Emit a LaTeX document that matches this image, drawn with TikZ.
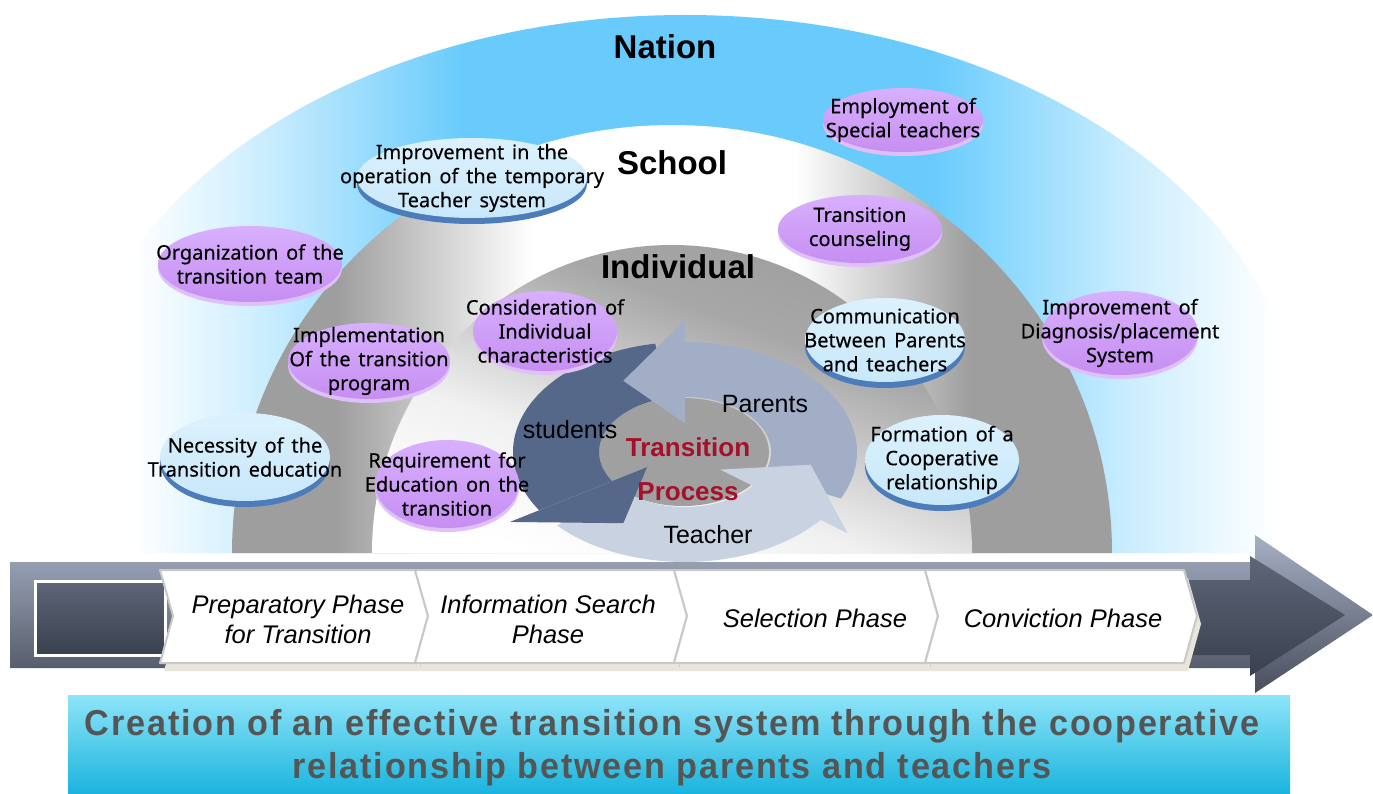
\documentclass[tikz,border=0pt]{standalone}
\usepackage{fontspec}
\setmainfont{Liberation Sans}
\newfontfamily\bubblefont[FakeBold=0.3, WordSpace=1.5]{Noto Sans}
\newfontfamily\phasefont{Liberation Sans}
\newfontfamily\goalfont[FakeStretch=0.95, LetterSpace=5]{Liberation Sans}

% palette
\definecolor{nblue}{RGB}{104,203,252}
\definecolor{archgray}{RGB}{158,158,158}
\definecolor{stud}{RGB}{86,104,138}
\definecolor{par}{RGB}{161,174,198}
\definecolor{teach}{RGB}{201,210,224}
\definecolor{core}{RGB}{160,160,160}
\definecolor{tpred}{RGB}{165,16,44}
\definecolor{purpA}{RGB}{216,176,253}
\definecolor{purpB}{RGB}{198,142,242}
\definecolor{purpRim}{RGB}{224,192,250}
\definecolor{bubBlueA}{RGB}{220,241,253}
\definecolor{bubBlueB}{RGB}{200,232,250}
\definecolor{rimBlue}{RGB}{76,124,186}
\definecolor{barTop}{RGB}{166,176,196}
\definecolor{barBot}{RGB}{72,78,92}
\definecolor{boxTop}{RGB}{94,102,120}
\definecolor{boxBot}{RGB}{58,64,78}
\definecolor{chevLine}{RGB}{200,200,200}
\definecolor{chevShadow}{RGB}{232,230,218}
\definecolor{bandTop}{RGB}{142,228,248}
\definecolor{bandBot}{RGB}{26,180,222}
\definecolor{bandText}{RGB}{85,85,85}

% layer fills
\pgfdeclarehorizontalshading{nationshade}{100bp}{color(0bp)=(white); color(25bp)=(white);
  color(27.5bp)=(white); color(33bp)=(nblue!35); color(41bp)=(nblue); color(60bp)=(nblue);
  color(68bp)=(nblue!35); color(74bp)=(white); color(100bp)=(white)}
\pgfdeclarehorizontalshading{schoolshade}{100bp}{color(0bp)=(archgray); color(25bp)=(archgray);
  color(31bp)=(archgray); color(42bp)=(white); color(57bp)=(white); color(67bp)=(archgray);
  color(75bp)=(archgray); color(100bp)=(archgray)}
\pgfdeclareverticalshading{indshade}{100bp}{color(0bp)=(white); color(25bp)=(white);
  color(40bp)=(white!85!archgray); color(62bp)=(archgray!90!white); color(75bp)=(archgray);
  color(100bp)=(archgray)}

% one segment of the cycle: colour, start angle, head angle
\newcommand{\cyclebody}[3]{%
  \fill[#1] plot[domain=#2:#3, samples=60] ({cos(\x)},{sin(\x)})
    -- plot[domain=#3:#2, samples=60] ({0.5*cos(\x)},{0.5*sin(\x)}) -- cycle;}
\newcommand{\cyclehead}[2]{%
  \fill[#1] ({1.2*cos(#2)},{1.2*sin(#2)}) -- ({0.74*cos(#2+29)},{0.74*sin(#2+29)})
    -- ({0.26*cos(#2)},{0.26*sin(#2)}) -- cycle;}

% label bubbles: name, x, y, x radius, y radius, text
\newcommand{\purplebubble}[6]{%
  \fill[purpRim] (#2,#3+4) ellipse [x radius=#4pt, y radius=#5pt];
  \shade[top color=purpA, bottom color=purpB] (#2,#3) ellipse [x radius=#4pt, y radius=#5pt];
  \node[bubtext] (#1) at (#2,#3) {#6};}
\newcommand{\bluebubble}[6]{%
  \fill[rimBlue] (#2,#3+6) ellipse [x radius=#4pt, y radius=#5pt];
  \shade[top color=bubBlueA, bottom color=bubBlueB] (#2,#3) ellipse [x radius=#4pt, y radius=#5pt];
  \node[bubtext] (#1) at (#2,#3) {#6};}

\begin{document}
\begin{tikzpicture}[x=1pt, y=-1pt,
  bubtext/.style={font=\bubblefont\fontsize{20}{24}\selectfont, align=center, inner sep=0pt},
  layerlabel/.style={font=\bfseries\fontsize{33}{36}\selectfont, inner sep=0pt},
  cyclabel/.style={font=\fontsize{25}{26}\selectfont, inner sep=0pt},
  corelabel/.style={font=\bfseries\fontsize{26}{28}\selectfont, text=tpred, inner sep=0pt},
  phasetext/.style={font=\phasefont\itshape\fontsize{25.5}{30}\selectfont, align=center, inner sep=0pt},
  chevronbox/.style={fill=white, draw=chevLine, line width=2pt, line join=round},
  goaltext/.style={font=\goalfont\bfseries\fontsize{36}{43}\selectfont, text=bandText, align=center, inner sep=0pt}]

\useasboundingbox (0,0) rectangle (1373,794);
\fill[white] (0,0) rectangle (1373,794);

% ---- nested arches ----
\shade[shading=nationshade] (70,553) -- (70,440)
  arc[start angle=180, end angle=0, x radius=615pt, y radius=425pt] -- (1300,553) -- cycle;
\shade[shading=schoolshade] (232,553)
  arc[start angle=180, end angle=0, x radius=440pt, y radius=428pt] -- cycle;
\shade[shading=indshade, shading angle=-20] (372,553)
  arc[start angle=180, end angle=0, x radius=300pt, y radius=308pt] -- cycle;

\node[layerlabel] (nation) at (665,47) {Nation};
\node[layerlabel] (school) at (672,163) {School};
\node[layerlabel] (individual) at (678,267) {Individual};

% ---- transition cycle ----
\fill[core] (683,452) ellipse [x radius=86pt, y radius=54pt];
\begin{scope}[shift={(685,452)}, x=172pt, y=110pt]
  \cyclebody{par}{-25}{90}
  \cyclebody{stud}{100}{212}
  \cyclebody{teach}{222}{322}
  \cyclehead{par}{90}
  \cyclehead{stud}{212}
  \cyclehead{teach}{322}
\end{scope}
\node[cyclabel] (parents) at (765,404) {Parents};
\node[cyclabel] (students) at (570,430) {students};
\node[cyclabel] (teacher) at (708,535) {Teacher};
\node[corelabel] (trans) at (688,447) {Transition};
\node[corelabel] (process) at (688,492) {Process};

% ---- measures ----
\purplebubble{employ}{903}{120}{80}{32}{Employment of\\Special teachers}
\bluebubble{temporary}{472}{178}{115}{40}{Improvement in the\\operation of the temporary\\Teacher system}
\purplebubble{organize}{250}{264}{92}{38}{Organization of the\\transition team}
\purplebubble{counsel}{860}{229}{82}{34}{Transition\\counseling}
\purplebubble{consider}{545}{331}{72}{40}{Consideration of\\Individual\\characteristics}
\purplebubble{implement}{369}{361}{81}{38}{Implementation\\Of the transition\\program}
\bluebubble{communicate}{885}{340}{80}{42}{Communication\\Between Parents\\and teachers}
\purplebubble{diagnosis}{1120}{333}{78}{42}{Improvement of\\Diagnosis/placement\\System}
\bluebubble{necessity}{245}{457}{85}{44}{Necessity of the\\Transition education}
\purplebubble{require}{447}{484}{72}{44}{Requirement for\\Education on the\\transition}
\bluebubble{formation}{942}{460}{77}{45}{Formation of a\\Cooperative\\relationship}

% ---- phase arrow ----
\shade[top color=barTop, bottom color=barBot] (10,562) -- (1255,562) -- (1255,535)
  -- (1373,615) -- (1255,693) -- (1255,668) -- (10,668) -- cycle;
\shade[top color=boxTop, bottom color=boxBot] (1185,580) -- (1250,580) -- (1250,556)
  -- (1345,615) -- (1250,676) -- (1250,655) -- (1185,655) -- cycle;
\shade[top color=boxTop, bottom color=boxBot, draw=white, line width=3pt] (35,581) rectangle (165,655);
\foreach \L/\R in {160/415, 415/674, 674/925, 925/1184}{
  \fill[chevShadow] (\L+4,578) -- (\R+4,578) -- (\R+17,624) -- (\R+4,671) -- (\L+4,671)
    -- (\L+17,624) -- cycle;}
\foreach \L/\R in {160/415, 415/674, 674/925, 925/1184}{
  \path[chevronbox] (\L,570) -- (\R,570) -- (\R+13,616) -- (\R,663) -- (\L,663)
    -- (\L+13,616) -- cycle;}
\node[phasetext] (prep) at (298,619) {Preparatory Phase\\for Transition};
\node[phasetext] (search) at (548,619) {Information Search\\Phase};
\node[phasetext] (select) at (815,618) {Selection Phase};
\node[phasetext] (convict) at (1063,618) {Conviction Phase};

% ---- goal band ----
\shade[top color=bandTop, bottom color=bandBot] (68,695) rectangle (1290,794);
\node[goaltext] (goal) at (672,748) {Creation of an effective transition system through the cooperative\\relationship between parents and teachers};
\end{tikzpicture}
\end{document}
